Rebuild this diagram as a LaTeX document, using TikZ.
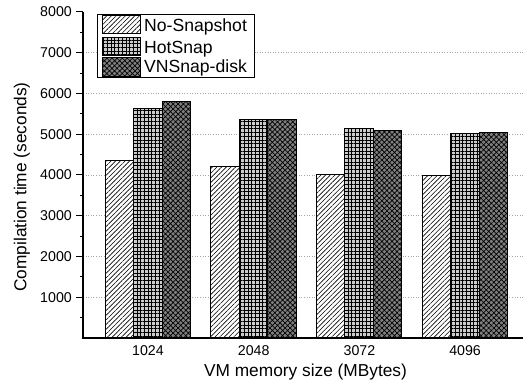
\documentclass[tikz,border=0pt]{standalone}
\usepackage{fontspec}
\setmainfont{Liberation Sans}
\usetikzlibrary{patterns.meta}
\begin{document}
\begin{tikzpicture}[x=1pt,y=-1pt,
  barline/.style={draw=black,line width=1pt},
  nosnap/.style={barline,preaction={fill=white},
    pattern={Lines[angle=45,distance=3.3pt,line width=0.6pt]}},
  hotsnap/.style={barline,preaction={fill=gray!40},
    pattern={Hatch[angle=0,distance=3.7pt,line width=0.6pt]}},
  vnsnap/.style={barline,preaction={fill=black!50},
    pattern={Hatch[angle=45,distance=3.6pt,line width=0.7pt]}},
  grid line/.style={gray!70,dotted,line width=0.6pt},
  ticklab/.style={font=\fontsize{14.2}{16}\selectfont,inner sep=0pt},
  legtext/.style={font=\fontsize{17.6}{20}\selectfont,inner sep=0pt,anchor=base west},
  axtitle/.style={font=\fontsize{17.3}{20}\selectfont,inner sep=0pt}]
\useasboundingbox (0,0) rectangle (523,384);
% value -> vertical position
\def\yz{338}
\def\ys{0.04075}

% horizontal dotted grid
\foreach \v in {1000,2000,...,7000}
  \draw[grid line] (83,{\yz-\ys*\v}) -- (523,{\yz-\ys*\v});

% bars: group centre, No-Snapshot, HotSnap, VNSnap-disk
\foreach \cx/\a/\b/\c/\lab in {148/4350/5630/5810/1024,
                               253.7/4200/5370/5350/2048,
                               359.4/4000/5140/5080/3072,
                               465.1/3990/5010/5040/4096}{
  \draw[nosnap]  (\cx-43,\yz) rectangle (\cx-14.5,{\yz-\ys*\a});
  \draw[hotsnap] (\cx-14.5,\yz) rectangle (\cx+14,{\yz-\ys*\b});
  \draw[vnsnap]  (\cx+14,\yz) rectangle (\cx+42.5,{\yz-\ys*\c});
  \node[ticklab] (x\lab) at (\cx,351) {\lab};
}

% axes
\draw[line width=1.2pt] (83,12) -- (83,\yz);
\draw[line width=2pt] (82.4,\yz) -- (523,\yz);
\foreach \v in {1000,2000,...,8000}{
  \draw[line width=1pt] (76,{\yz-\ys*\v}) -- (83,{\yz-\ys*\v});
  \node[ticklab,anchor=east] (y\v) at (72,{\yz-\ys*\v}) {\v};
}
\foreach \v in {500,1500,...,7500}
  \draw[line width=1pt] (80,{\yz-\ys*\v}) -- (83,{\yz-\ys*\v});

% axis titles
\node[axtitle] (xtitle) at (305.5,372) {VM memory size (MBytes)};
\node[axtitle,rotate=90] (ytitle) at (22,187) {Compilation time (seconds)};

% legend
\draw[fill=white,line width=1pt] (97.7,14) rectangle (254,77.5);
\draw[nosnap]  (102,15.5) rectangle (140,33.5);
\draw[hotsnap] (102,37.5) rectangle (140,55.5);
\draw[vnsnap]  (102,57.5) rectangle (140,76);
\node[legtext] (l1) at (144,31.7) {No-Snapshot};
\node[legtext] (l2) at (144,53.3) {HotSnap};
\node[legtext] (l3) at (144,72.7) {VNSnap-disk};
\end{tikzpicture}
\end{document}
